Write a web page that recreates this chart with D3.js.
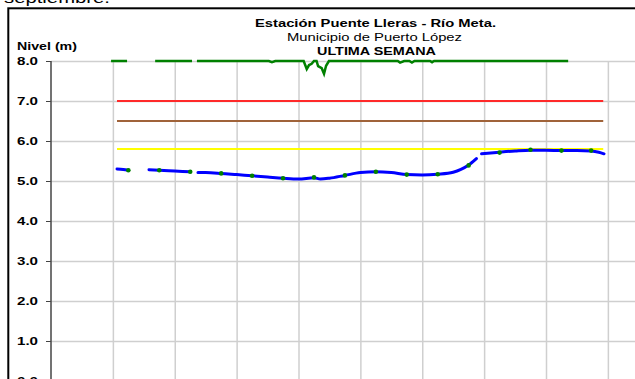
<!DOCTYPE html>
<html>
<head>
<meta charset="utf-8">
<script src="https://cdn.jsdelivr.net/npm/d3@7"></script>
<style>
  html, body { margin: 0; padding: 0; background: #fff; }
  svg { display: block; }
  text { font-family: Arial, "Liberation Sans", sans-serif; }
</style>
</head>
<body>
<svg id="chart" width="635" height="379"></svg>
<script>
// ---- data (hours since axis origin, levels in metres) ----
const yTicks = [0, 1, 2, 3, 4, 5, 6, 7, 8];
const dayGrid = [24, 48, 72, 96, 120, 144, 168, 192, 216, 240];

const thresholdLevels = [7.0, 6.5, 5.8];
const thresholdColors = ["#ff2a2a", "#a0633a", "#ffff00"];
const thresholdSpan = [25.6, 214.2];

// blue: continuous level record (null = gap)
const blueHours = [25.6, 28, 30, 34, 38, 42, 48, 54, 56, 57, 60, 66, 72, 78, 84, 90, 96, 102, 104.5, 108, 114, 120, 126, 132, 138, 144, 150, 156, 159, 162, 165, 166, 167, 174, 180, 186, 192, 198, 204, 209.5, 212.5, 214.5];
const blueValues = [5.30, 5.29, 5.27, null, 5.28, 5.27, 5.25, 5.23, null, 5.21, 5.21, 5.19, 5.16, 5.13, 5.10, 5.07, 5.05, 5.08, 5.05, 5.07, 5.14, 5.21, 5.23, 5.21, 5.16, 5.15, 5.17, 5.22, 5.29, 5.40, 5.56, null, 5.68, 5.72, 5.75, 5.77, 5.77, 5.76, 5.76, 5.75, 5.72, 5.68];

// green dots: readings every 12 h
const readHours = [30, 42, 54, 66, 78, 90, 102, 114, 126, 138, 150, 162, 174, 186, 198, 209.5];
const readValues = [5.27, 5.27, 5.23, 5.19, 5.13, 5.07, 5.09, 5.14, 5.23, 5.16, 5.17, 5.39, 5.71, 5.78, 5.76, 5.76];

// green line at top of scale (sensor series, null = gap)
const greenHours = [23.3, 29.5, 32, 40.4, 54.7, 55.5, 56.6, 84.5, 85.7, 87, 98, 99.2, 100.1, 101.1, 102, 103, 103.6, 105, 105.9, 106.7, 107.8, 134.5, 135.4, 137, 139, 140, 141, 147, 147.8, 148.6, 200.6];
const greenValues = [8.0, 8.0, null, 8.0, 8.0, null, 8.0, 8.0, 7.97, 8.0, 8.0, 7.80, 7.90, 7.93, 8.0, 8.0, 7.87, 7.82, 7.68, 7.88, 8.0, 8.0, 7.96, 8.0, 8.0, 7.96, 8.0, 8.0, 7.97, 8.0, 8.0];

// ---- layout ----
const svg = d3.select("#chart");
const plotLeft = 51, plotTop = 61;
const x = d3.scaleLinear().domain([0, 240]).range([plotLeft, 669.75]);
const y = d3.scaleLinear().domain([0, 8]).range([381, plotTop]);

// frame
svg.append("rect").attr("x", 8.3).attr("y", 8.3).attr("width", 700).attr("height", 400)
  .attr("fill", "none").attr("stroke", "#000").attr("stroke-width", 2);

// text above frame (cropped)
svg.append("text").attr("x", 4).attr("y", 3).attr("font-size", 15)
  .attr("textLength", 106).attr("lengthAdjust", "spacingAndGlyphs")
  .text("septiembre.");

// grid
const gy = svg.append("g").attr("transform", `translate(${plotLeft},0)`)
  .call(d3.axisLeft(y).tickValues(yTicks).tickSize(-700).tickFormat(""));
gy.select(".domain").remove();
gy.selectAll("line").attr("stroke", "#cfcfcf").attr("stroke-width", 1.5);

const gx = svg.append("g").attr("transform", `translate(0,${plotTop})`)
  .call(d3.axisBottom(x).tickValues(dayGrid).tickSize(330).tickFormat(""));
gx.select(".domain").remove();
gx.selectAll("line").attr("stroke", "#cfcfcf").attr("stroke-width", 1.5);

// y axis
const ay = svg.append("g").attr("transform", `translate(${plotLeft},0)`)
  .call(d3.axisLeft(y).tickValues(yTicks).tickSize(5).tickPadding(8).tickFormat(d3.format(".1f")));
ay.select(".domain").attr("stroke", "#444").attr("stroke-width", 1.5)
  .attr("d", `M0,${y(8)}V400`);
ay.selectAll("line").attr("stroke", "#444").attr("stroke-width", 1);
ay.selectAll("text").attr("font-size", 11).attr("font-weight", "bold").attr("fill", "#000")
  .attr("font-family", "Arial, 'Liberation Sans', sans-serif")
  .attr("dy", "0.36em")
  .attr("textLength", 21).attr("lengthAdjust", "spacingAndGlyphs");

// y-axis title
svg.append("text").attr("x", 17).attr("y", 49.5).attr("font-size", 11).attr("font-weight", "bold")
  .attr("textLength", 60).attr("lengthAdjust", "spacingAndGlyphs").text("Nivel (m)");

// titles
svg.append("text").attr("x", 255).attr("y", 27).attr("font-size", 11).attr("font-weight", "bold")
  .attr("textLength", 241).attr("lengthAdjust", "spacingAndGlyphs").text("Estación Puente Lleras - Río Meta.");
svg.append("text").attr("x", 287).attr("y", 40.5).attr("font-size", 10.5)
  .attr("textLength", 175).attr("lengthAdjust", "spacingAndGlyphs").text("Municipio de Puerto López");
svg.append("text").attr("x", 317).attr("y", 54.5).attr("font-size", 11).attr("font-weight", "bold")
  .attr("textLength", 119).attr("lengthAdjust", "spacingAndGlyphs").text("ULTIMA SEMANA");

// threshold lines
thresholdLevels.forEach((lv, i) => {
  svg.append("line")
    .attr("x1", x(thresholdSpan[0])).attr("x2", x(thresholdSpan[1]))
    .attr("y1", y(lv)).attr("y2", y(lv))
    .attr("stroke", thresholdColors[i]).attr("stroke-width", 2);
});

// green top line
const greenData = greenHours.map((h, i) => ({h, v: greenValues[i]}));
svg.append("path").datum(greenData)
  .attr("fill", "none").attr("stroke", "#008000").attr("stroke-width", 2.5)
  .attr("d", d3.line().defined(d => d.v !== null).x(d => x(d.h)).y(d => y(d.v)));

// blue line
const blueData = blueHours.map((h, i) => ({h, v: blueValues[i]}));
svg.append("path").datum(blueData)
  .attr("fill", "none").attr("stroke", "#0000ff").attr("stroke-width", 3)
  .attr("stroke-linecap", "round")
  .attr("d", d3.line().defined(d => d.v !== null).curve(d3.curveMonotoneX).x(d => x(d.h)).y(d => y(d.v)));

// green readings
svg.append("g").selectAll("circle").data(readHours.map((h, i) => ({h, v: readValues[i]})))
  .join("circle").attr("cx", d => x(d.h)).attr("cy", d => y(d.v)).attr("r", 2.3)
  .attr("fill", "#008000");
</script>
</body>
</html>
